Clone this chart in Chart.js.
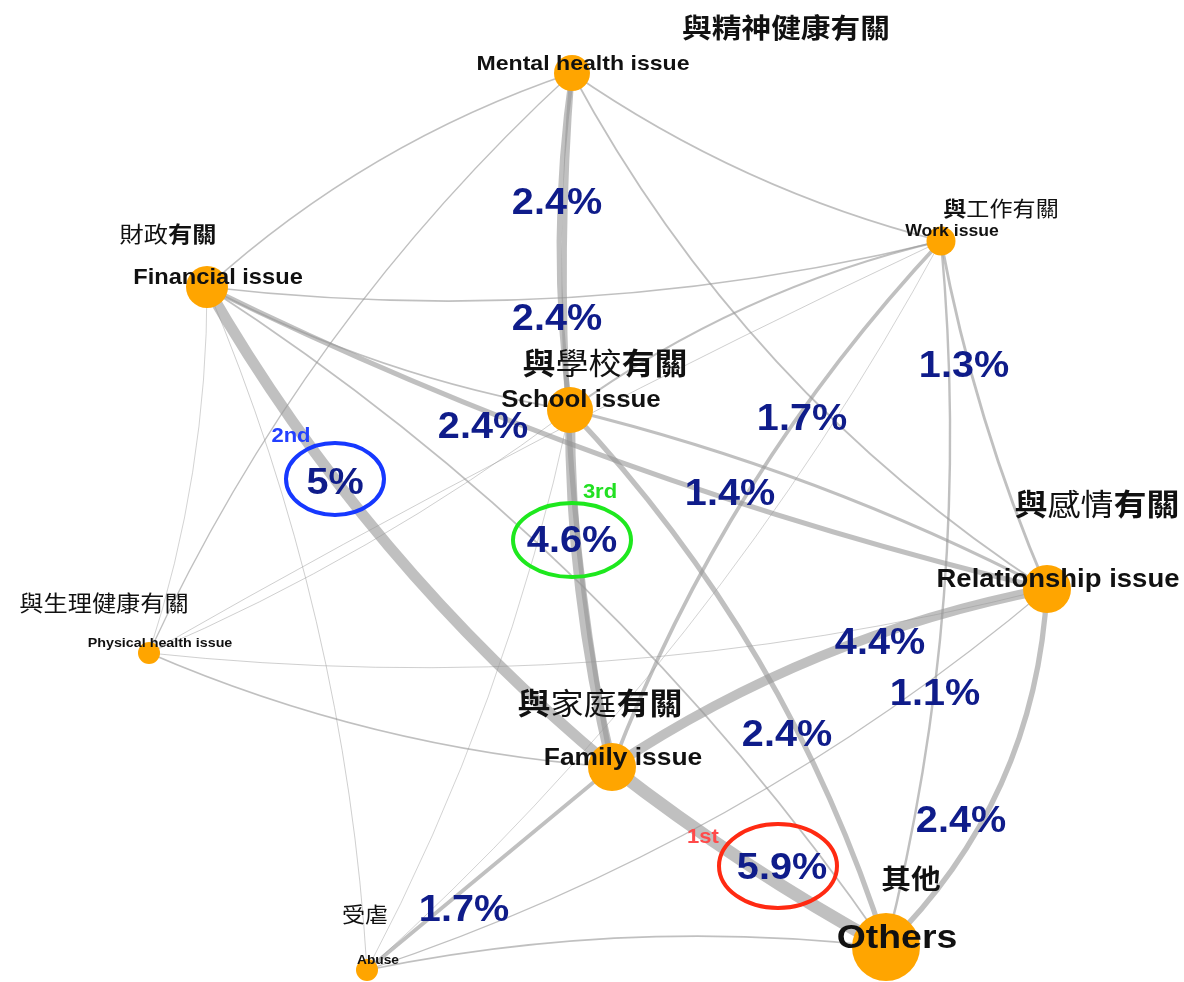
<!DOCTYPE html>
<html>
<head>
<meta charset="utf-8">
<script src="https://cdn.jsdelivr.net/npm/chart.js@4.4.1/dist/chart.umd.min.js"></script>
<style>
  html, body { margin: 0; padding: 0; background: #fff; }
  #wrap { position: relative; width: 1184px; height: 982px; }
</style>
</head>
<body>
<div id="wrap"><canvas id="net"></canvas></div>
<script>
/* problem categories (nodes), placed in a 1184 x 982 layout space */
const nodeNames = ["Mental health issue", "Financial issue", "Work issue", "School issue",
  "Relationship issue", "Physical health issue", "Family issue", "Abuse", "Others"];
const nodeNamesZh = ["與精神健康有關", "財政有關", "與工作有關", "與學校有關",
  "與感情有關", "與生理健康有關", "與家庭有關", "受虐", "其他"];
const nodeX = [572, 207, 941, 570, 1047, 149, 612, 367, 886];
const nodeY = [73, 287, 241, 410, 589, 653, 767, 970, 947];
const nodeSize = [18, 21, 14.5, 23, 24, 11, 24, 11, 34];

/* co-occurrence links: node index pairs, share of cases (%), curvature */
const edgeFrom  = [0, 0, 0, 0, 0, 0, 1, 1, 1, 1, 1, 1, 1, 2, 2, 2, 2, 2, 2, 3, 3, 3, 3, 3, 6, 4, 7, 5, 5, 6, 6, 7];
const edgeTo    = [1, 5, 3, 6, 2, 4, 2, 3, 4, 6, 5, 7, 8, 3, 5, 6, 7, 8, 4, 4, 6, 8, 5, 7, 4, 8, 4, 4, 6, 8, 7, 8];
const edgeShare = [0.7, 0.6, 2.4, 2.4, 0.8, 0.8, 0.8, 0.8, 2.4, 5.0, 0.3, 0.35, 0.8, 1.0, 0.35, 1.7,
  0.3, 1.1, 1.3, 1.4, 4.6, 2.4, 0.35, 0.3, 4.4, 2.4, 0.5, 0.35, 0.8, 5.9, 1.7, 0.8];
const edgeBend  = [0.052, 0.05, 0.035, 0.034, 0.045, 0.064, 0.045, 0.04, 0.028, 0.045, -0.04, -0.043, -0.05,
  0.05, 0.01, 0.049, -0.043, -0.043, 0.028, -0.03, 0.03, -0.057, -0.03, -0.035, -0.05, -0.097, 0.048,
  0.045, 0.042, 0.02, 0, -0.04];

/* percentages written on the links */
const pctText = ["2.4%", "2.4%", "2.4%", "1.7%", "1.3%", "1.4%", "4.4%", "1.1%", "2.4%", "2.4%", "1.7%", "5%", "4.6%", "5.9%"];

/* top three links */
const rankText = ["1st", "2nd", "3rd"];

/* ---- layout of the annotations ---- */
const pctPos = [[557, 201], [557, 317], [483, 425], [802, 417], [964, 364], [730, 492], [880, 641],
  [935, 692], [787, 733], [961, 819], [464, 908], [335, 481], [572, 539], [782, 866]];
const rankPos = [[703, 836], [291, 435], [600, 491]];
const rankColor = ["#ff4a4a", "#2340ff", "#22e022"];
const ringPos = [[778, 866, 59, 42], [335, 479, 49, 36], [572, 540, 59, 37]];
const ringColor = ["#ff2a12", "#1638ff", "#1ee81e"];
const enSize = [21, 21.5, 16, 23.5, 25, 13, 24, 12.5, 34];
const zhPos = [[786, 28], [168, 234], [1001, 208], [605, 363], [1097, 504], [104, 603], [600, 703], [365, 914], [911, 879]];
const zhSize = [27, 22, 21, 30, 30, 22, 30, 21, 27];
const zhWeight = ["BBBBBBB", "NNBB", "BNNNN", "BNNBB", "BNNBB", "NNNNNNN", "BNNBB", "NN", "BB"];
const STRETCH = 1.1;
const SANS = '"Liberation Sans", Arial, sans-serif';
const CJK = '"Noto Sans CJK TC", "Noto Sans CJK SC", sans-serif';

function stretched(ctx, txt, x, y) {
  ctx.save();
  ctx.translate(x, y);
  ctx.scale(STRETCH, 1);
  ctx.fillText(txt, 0, 0);
  ctx.restore();
}

const edgePlugin = {
  id: "edges",
  beforeDatasetsDraw(chart) {
    const { ctx, scales: { x, y } } = chart;
    ctx.save();
    ctx.strokeStyle = "rgba(150,150,150,0.6)";
    ctx.lineCap = "round";
    edgeFrom.forEach((a, i) => {
      const b = edgeTo[i];
      const x1 = x.getPixelForValue(nodeX[a]), y1 = y.getPixelForValue(nodeY[a]);
      const x2 = x.getPixelForValue(nodeX[b]), y2 = y.getPixelForValue(nodeY[b]);
      const cx = (x1 + x2) / 2 - 2 * edgeBend[i] * (y2 - y1);
      const cy = (y1 + y2) / 2 + 2 * edgeBend[i] * (x2 - x1);
      ctx.lineWidth = Math.max(0.7, edgeShare[i] * 2.2);
      ctx.beginPath();
      ctx.moveTo(x1, y1);
      ctx.quadraticCurveTo(cx, cy, x2, y2);
      ctx.stroke();
    });
    ctx.restore();
  }
};

const labelPlugin = {
  id: "labels",
  afterDatasetsDraw(chart) {
    const { ctx, scales: { x, y } } = chart;
    ctx.save();
    ctx.textBaseline = "alphabetic";

    /* english node names, over the nodes */
    ctx.fillStyle = "#111";
    ctx.textAlign = "center";
    nodeNames.forEach((n, i) => {
      const s = enSize[i];
      ctx.font = `bold ${s}px ${SANS}`;
      stretched(ctx, n, x.getPixelForValue(nodeX[i] + 11), y.getPixelForValue(nodeY[i] - 11) + 0.36 * s);
    });

    /* chinese captions, mixed weights */
    ctx.textBaseline = "middle";
    ctx.textAlign = "left";
    nodeNamesZh.forEach((t, i) => {
      const s = zhSize[i];
      const chars = [...t];
      const fonts = chars.map((c, k) => `${zhWeight[i][k] === "B" ? "bold" : "normal"} ${s}px ${CJK}`);
      const widths = chars.map((c, k) => { ctx.font = fonts[k]; return ctx.measureText(c).width * STRETCH; });
      let cx = x.getPixelForValue(zhPos[i][0]) - widths.reduce((p, w) => p + w, 0) / 2;
      const cy = y.getPixelForValue(zhPos[i][1]);
      chars.forEach((c, k) => {
        ctx.font = fonts[k];
        stretched(ctx, c, cx, cy);
        cx += widths[k];
      });
    });

    /* rank rings */
    ringPos.forEach((r, i) => {
      ctx.strokeStyle = ringColor[i];
      ctx.lineWidth = 4;
      ctx.beginPath();
      ctx.ellipse(x.getPixelForValue(r[0]), y.getPixelForValue(r[1]), r[2], r[3], 0, 0, Math.PI * 2);
      ctx.stroke();
    });

    /* percentages */
    ctx.textAlign = "center";
    ctx.textBaseline = "alphabetic";
    ctx.fillStyle = "#0f1c8a";
    ctx.font = `bold 36px ${SANS}`;
    pctText.forEach((t, i) => {
      stretched(ctx, t, x.getPixelForValue(pctPos[i][0]), y.getPixelForValue(pctPos[i][1]) + 13);
    });

    ctx.font = `bold 20px ${SANS}`;
    rankText.forEach((t, i) => {
      ctx.fillStyle = rankColor[i];
      stretched(ctx, t, x.getPixelForValue(rankPos[i][0]), y.getPixelForValue(rankPos[i][1]) + 7);
    });
    ctx.restore();
  }
};

new Chart(document.getElementById("net"), {
  type: "bubble",
  data: {
    datasets: [{
      data: nodeX.map((v, i) => ({ x: v, y: nodeY[i], r: nodeSize[i] })),
      backgroundColor: "#ffa500",
      borderWidth: 0,
      hoverRadius: 0,
      clip: false,
    }],
  },
  options: {
    responsive: true, maintainAspectRatio: false, animation: false, events: [],
    layout: { padding: 0, autoPadding: false },
    plugins: { legend: { display: false }, tooltip: { enabled: false } },
    scales: {
      x: { type: "linear", min: 0, max: 1184, display: false },
      y: { type: "linear", min: 0, max: 982, reverse: true, display: false },
    },
  },
  plugins: [edgePlugin, labelPlugin],
});
</script>
</body>
</html>
